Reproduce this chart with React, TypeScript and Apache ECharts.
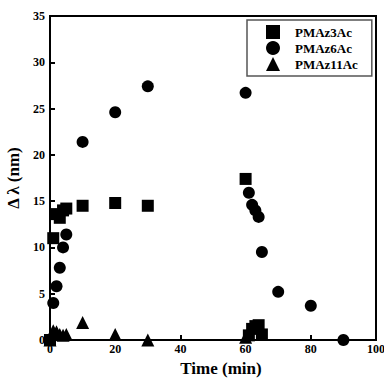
import React, { useEffect, useRef } from "react";
import * as echarts from "echarts";

const seriesNames = ["PMAz3Ac", "PMAz6Ac", "PMAz11Ac"];

const time3 = [0, 1, 2, 3, 4, 5, 10, 20, 30, 60, 61, 62, 63, 64, 65];
const dl3 = [0, 11.0, 13.6, 13.2, 14.0, 14.2, 14.5, 14.8, 14.5, 17.4, 0.5, 1.2, 1.5, 1.6, 0.6];

const time6 = [1, 2, 3, 4, 5, 10, 20, 30, 60, 61, 62, 63, 64, 65, 70, 80, 90];
const dl6 = [4.0, 5.8, 7.8, 10.0, 11.4, 21.4, 24.6, 27.4, 26.7, 15.9, 14.6, 14.0, 13.3, 9.5, 5.2, 3.7, 0];

const time11 = [0, 1, 2, 3, 4, 5, 10, 20, 30, 60];
const dl11 = [0, 1.0, 0.9, 0.6, 0.5, 0.6, 1.9, 0.6, 0, 0.3];

const xTicks = [0, 20, 40, 60, 80, 100];
const yTicks = [0, 5, 10, 15, 20, 25, 30, 35];

const FONT = "Liberation Serif";

function pairs(xs: number[], ys: number[]) {
  return xs.map((x, i) => [x, ys[i]]);
}

export default function App() {
  const ref = useRef<HTMLDivElement>(null);
  useEffect(() => {
    if (!ref.current) return;
    const chart = echarts.init(ref.current, null, { renderer: "svg" });
    const symbols = ["rect", "circle", "triangle"];
    const sizes = [12, 12, 13];
    const datas = [pairs(time3, dl3), pairs(time6, dl6), pairs(time11, dl11)];
    chart.setOption({
      animation: false,
      backgroundColor: "#fff",
      grid: {
        left: 50,
        right: 8,
        top: 16,
        bottom: 38,
        show: true,
        borderColor: "#000",
        borderWidth: 2,
        backgroundColor: "transparent",
        containLabel: false,
        outerBoundsMode: "none",
      },
      legend: {
        data: seriesNames,
        orient: "vertical",
        left: 247,
        top: 20,
        padding: [5, 14, 5, 19],
        itemWidth: 14,
        itemHeight: 14,
        itemGap: 2,
        borderColor: "#555",
        borderWidth: 1.5,
        backgroundColor: "#fff",
        textStyle: {
          fontFamily: FONT,
          fontWeight: "bold",
          fontSize: 13,
          color: "#000",
          padding: [0, 0, 0, 10],
        },
      },
      xAxis: {
        type: "value",
        min: xTicks[0],
        max: xTicks[xTicks.length - 1],
        interval: 20,
        name: "Time (min)",
        nameLocation: "middle",
        nameGap: 19,
        nameTextStyle: {
          fontFamily: FONT,
          fontWeight: "bold",
          fontSize: 17,
          color: "#000",
          padding: [0, 0, 0, 16],
        },
        axisLine: { lineStyle: { color: "#000", width: 2 } },
        axisTick: { inside: true, length: 5, lineStyle: { color: "#000", width: 2 } },
        axisLabel: {
          margin: 3,
          fontFamily: FONT,
          fontWeight: "bold",
          fontSize: 12,
          color: "#000",
        },
        splitLine: { show: false },
      },
      yAxis: {
        type: "value",
        min: yTicks[0],
        max: yTicks[yTicks.length - 1],
        interval: 5,
        name: "Δ λ (nm)",
        nameLocation: "middle",
        nameGap: 22,
        nameRotate: 90,
        nameTextStyle: {
          fontFamily: FONT,
          fontWeight: "bold",
          fontSize: 17,
          color: "#000",
          padding: [0, 0, 0, 0],
        },
        axisLine: { lineStyle: { color: "#000", width: 2 } },
        axisTick: { inside: true, length: 5, lineStyle: { color: "#000", width: 2 } },
        axisLabel: {
          margin: 5,
          fontFamily: FONT,
          fontWeight: "bold",
          fontSize: 12,
          color: "#000",
        },
        splitLine: { show: false },
      },
      series: seriesNames.map((name, i) => ({
        name,
        type: "scatter",
        symbol: symbols[i],
        symbolSize: sizes[i],
        itemStyle: { color: "#000", opacity: 1 },
        data: datas[i],
        clip: false,
      })),
    });
    return () => chart.dispose();
  }, []);
  return (
    <div
      ref={ref}
      style={{ position: "absolute", left: 0, top: 0, width: 384, height: 378 }}
    />
  );
}
